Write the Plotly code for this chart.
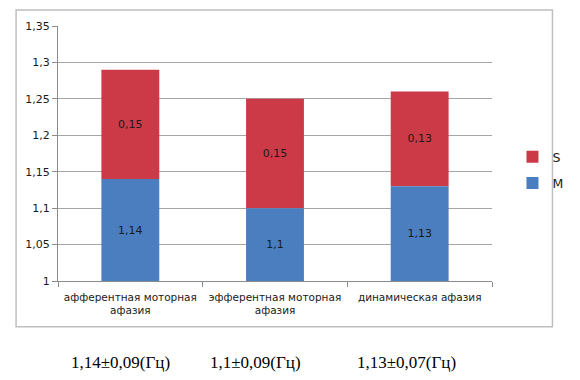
import plotly.graph_objects as go

categories = ["афферентная моторная<br>афазия", "эфферентная моторная<br>афазия", "динамическая афазия"]
m_values = [1.14, 1.10, 1.13]
s_values = [0.15, 0.15, 0.13]
m_labels = ["1,14", "1,1", "1,13"]
s_labels = ["0,15", "0,15", "0,13"]
y_tickvals = [1, 1.05, 1.1, 1.15, 1.2, 1.25, 1.3, 1.35]
y_ticktext = ["1", "1,05", "1,1", "1,15", "1,2", "1,25", "1,3", "1,35"]
footer_texts = ["1,14±0,09(Гц)", "1,1±0,09(Гц)", "1,13±0,07(Гц)"]

BASE = 1.0
BLUE = "#4A7EBF"
RED = "#CC3A47"
FONT = "DejaVu Sans"
OFF = 8  # browser body margin

fig = go.Figure()
fig.add_trace(go.Bar(
    x=categories, y=s_values, base=m_values, name="S", legendgroup="S",
    marker=dict(color=RED, line=dict(width=0)), width=0.4,
    text=s_labels, textposition="inside", insidetextanchor="middle",
    textfont=dict(family=FONT, size=11, color="#1a1a1a"),
))
fig.add_trace(go.Bar(
    x=categories, y=[v - BASE for v in m_values], base=BASE, name="M", legendgroup="M",
    marker=dict(color=BLUE, line=dict(width=0)), width=0.4,
    text=m_labels, textposition="inside", insidetextanchor="middle",
    textfont=dict(family=FONT, size=11, color="#1a1a1a"),
))

W, H = 580 - OFF, 380 - OFF
L, T = 58 - OFF, 24 - OFF
R = W - (503 - OFF)
B = H - (281 - OFF)
pw, ph = W - L - R, H - T - B

def px(x):
    return (x - OFF - L) / pw

def py(y):
    return (H - B - (y - OFF)) / ph

fig.update_layout(
    width=W, height=H, margin=dict(l=L, r=R, t=T, b=B),
    barmode="overlay", paper_bgcolor="white", plot_bgcolor="white",
    font=dict(family=FONT, size=11, color="#1a1a1a"),
    uniformtext=dict(minsize=8, mode="show"),
    showlegend=True,
    legend=dict(x=px(524), y=py(141), xanchor="left", yanchor="top",
                traceorder="grouped", font=dict(size=12.5), itemwidth=30,
                bgcolor="rgba(0,0,0,0)", tracegroupgap=7),
    xaxis=dict(type="category", showline=True, linecolor="#8c8c8c", linewidth=1,
               ticks="outside", tickson="boundaries", ticklen=5, tickcolor="#8c8c8c",
               showgrid=False, tickfont=dict(size=10.5), ticklabelstandoff=6),
    yaxis=dict(range=[1, 1.35], tickvals=y_tickvals, ticktext=y_ticktext,
               showline=True, linecolor="#8c8c8c", linewidth=1,
               ticks="outside", ticklen=5, tickcolor="#8c8c8c",
               showgrid=True, gridcolor="#a6a6a6", gridwidth=1,
               zeroline=False, tickfont=dict(size=11)),
    shapes=[dict(type="rect", xref="paper", yref="paper",
                 x0=px(15), x1=px(565), y0=py(327), y1=py(8),
                 line=dict(color="#bfbfbf", width=1.5), layer="below")],
)

for txt, cx in zip(footer_texts, [122, 261, 415]):
    fig.add_annotation(text=txt, xref="paper", yref="paper", x=px(cx), y=py(363),
                       showarrow=False, xanchor="center", yanchor="middle",
                       font=dict(family="Liberation Serif", size=17, color="black"))

fig.write_html("out.html")
